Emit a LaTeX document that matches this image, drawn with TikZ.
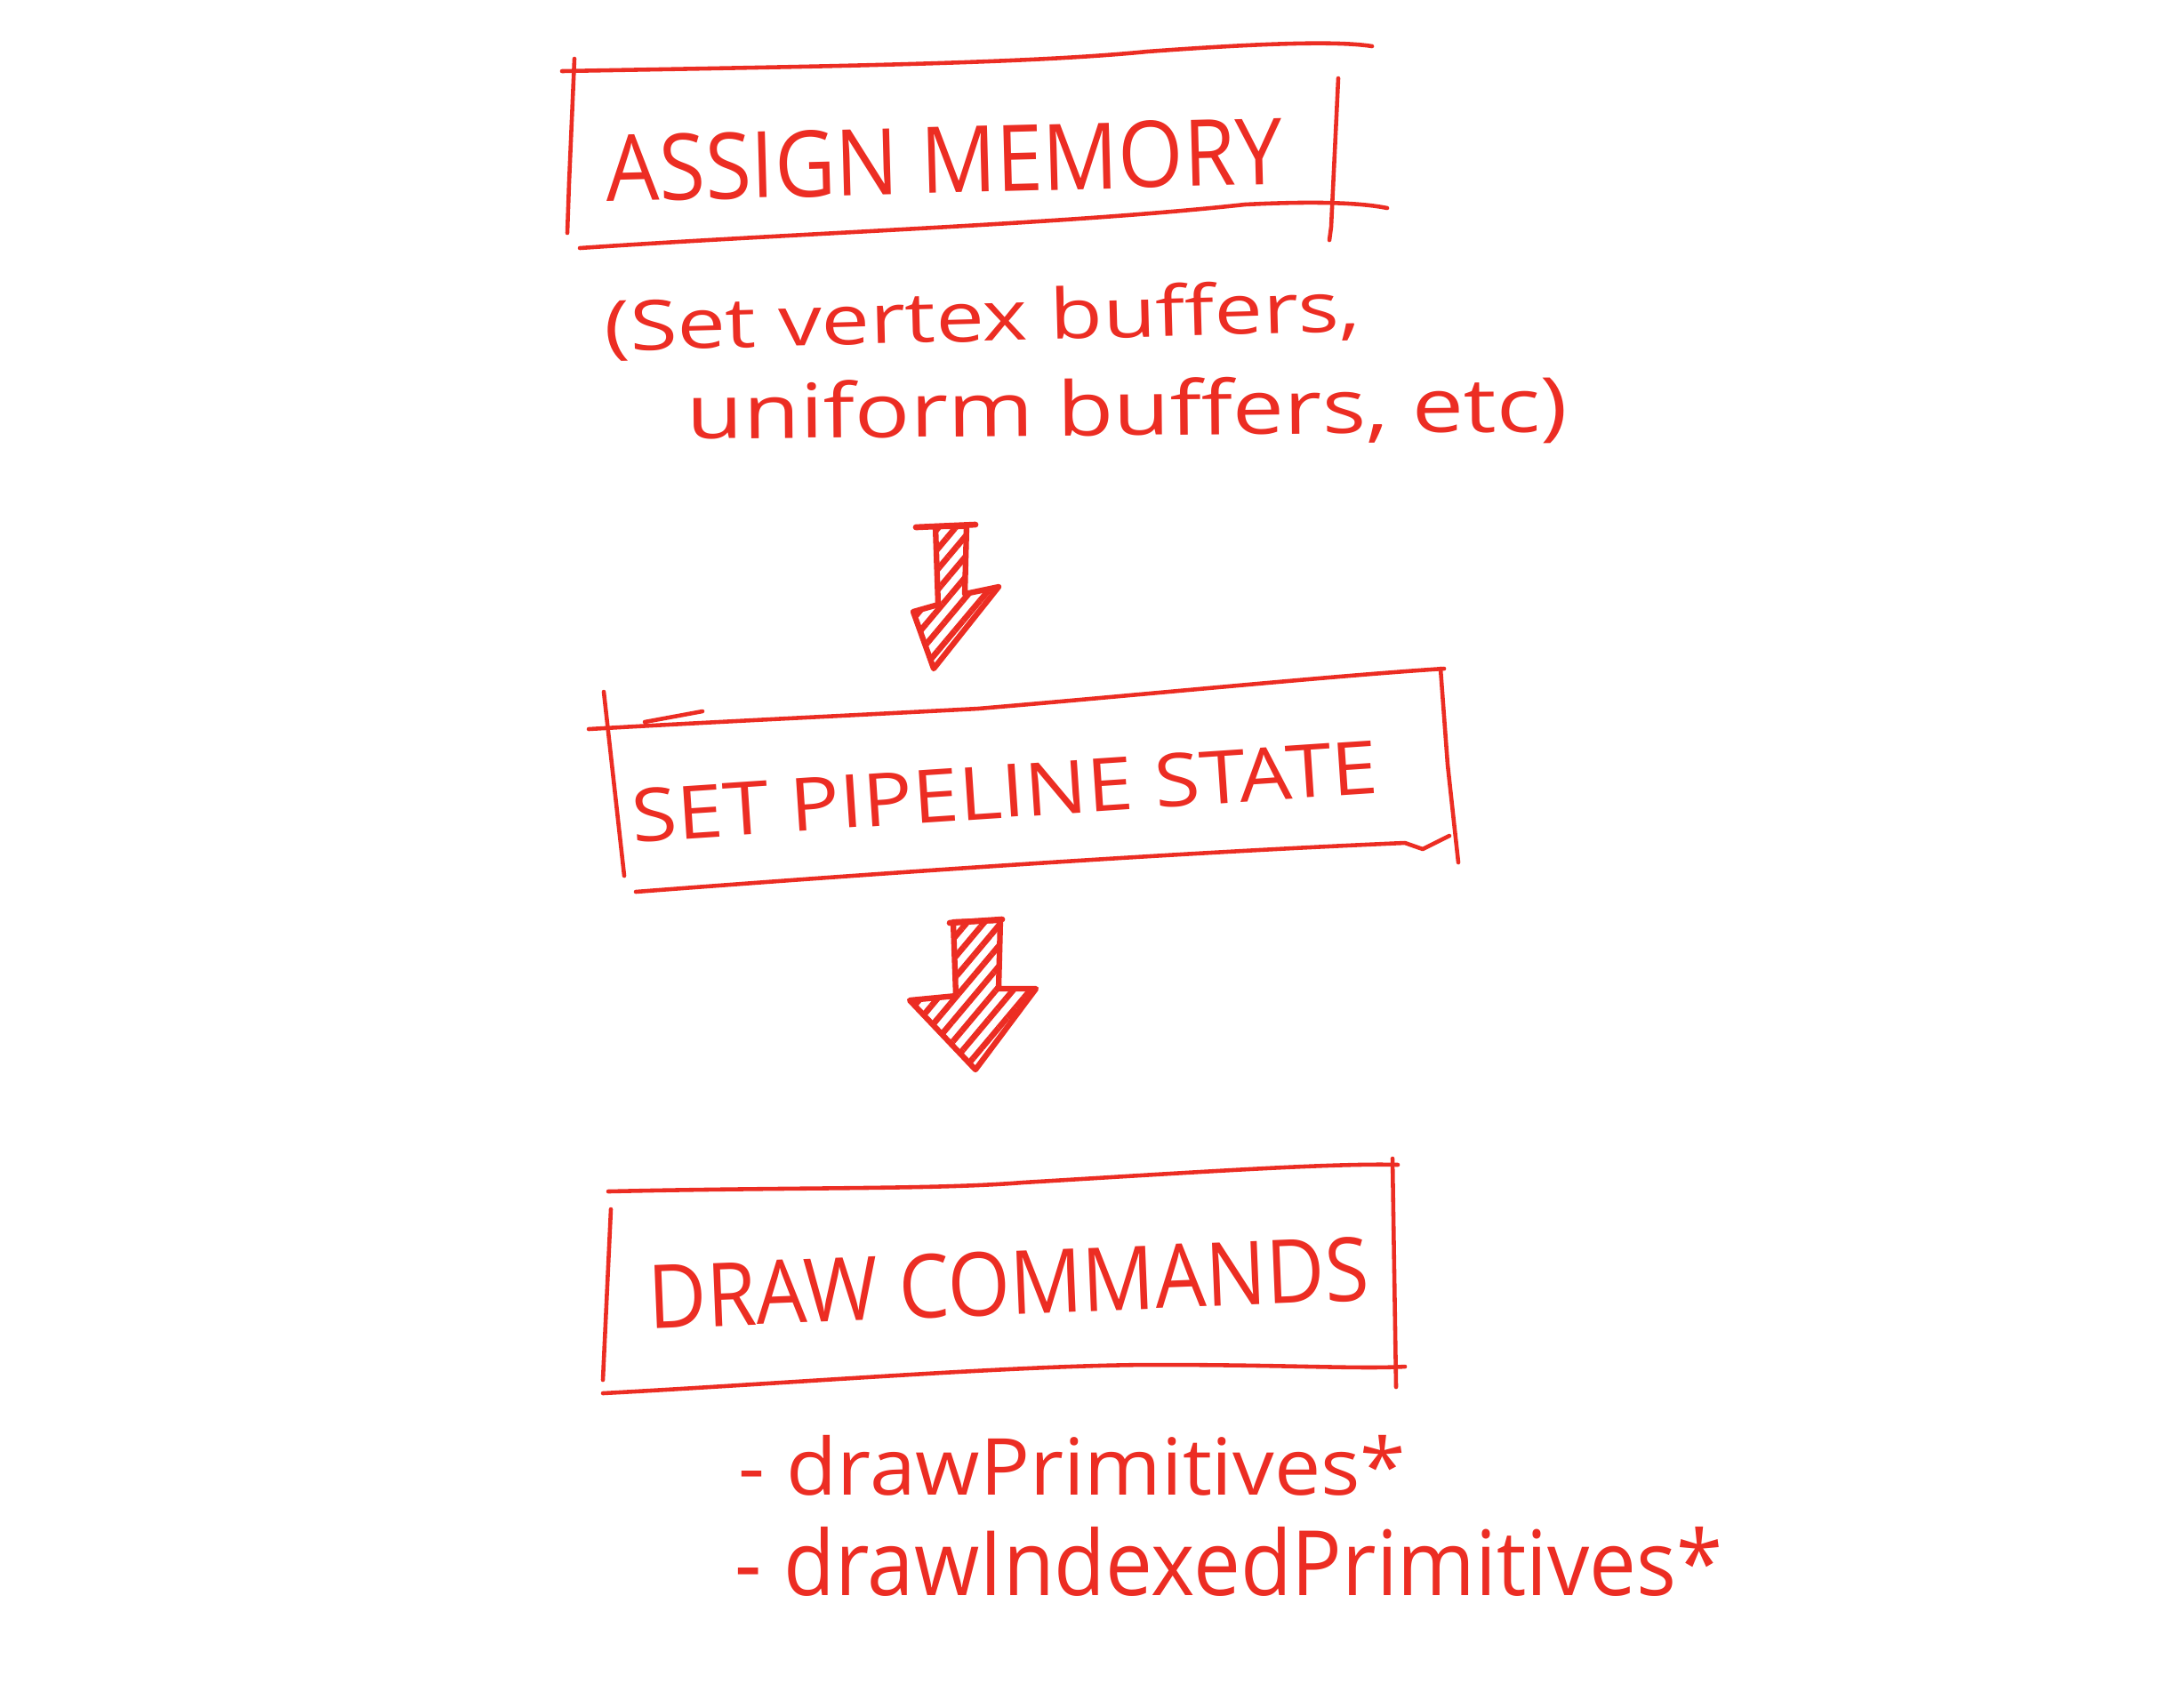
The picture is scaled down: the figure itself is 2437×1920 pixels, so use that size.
\documentclass[tikz,border=0pt]{standalone}
\usepackage{fontspec}
\setmainfont{Open Sans}
\usetikzlibrary{patterns.meta}
\definecolor{sketchred}{RGB}{236,45,35}
\tikzset{
  boxline/.style={draw=sketchred, line width=1.3pt, line cap=round, line join=round},
  txt/.style={text=sketchred, inner sep=0pt},
  hatcharrow/.style={draw=sketchred, line width=1.8pt, line join=round, line cap=round,
    pattern={Lines[angle=50,distance=4.2pt,line width=1.9pt]}, pattern color=sketchred},
  crossbar/.style={draw=sketchred, line width=1.9pt, line cap=round}
}
\begin{document}
\begin{tikzpicture}[x=0.01cm,y=-0.01cm]
\useasboundingbox[fill=white] (0,0) rectangle (2437,1920);

% ---- box 1
\draw[boxline] (632,80) .. controls (900,75) and (1150,72) .. (1290,58) .. controls (1400,50) and (1500,45) .. (1543,52);
\draw[boxline] (646,66) -- (640,205) -- (638,262);
\draw[boxline] (1505,88) -- (1497,255) -- (1495,270);
\draw[boxline] (652,279) .. controls (900,262) and (1200,252) .. (1400,230) .. controls (1480,226) and (1530,228) .. (1560,234);
\node[txt, rotate=1.5] (b1) at (1062,180) {\resizebox{7.6cm}{0.75cm}{ASSIGN MEMORY}};

\node[txt, rotate=1.5] (s1) at (1105,360) {\resizebox*{8.5cm}{0.72cm}{(Set vertex buffers,}};
\node[txt, rotate=0.5] (s2) at (1268,464) {\resizebox*{9.9cm}{0.78cm}{uniform buffers, etc)}};

% ---- arrow 1
\coordinate (a1) at (1068,592);
\coordinate (a1tip) at (1050,752);
\draw[hatcharrow] (1052,592) -- (1087,592) -- (1085,668) -- (1123,660) -- (a1tip) -- (1027,688) -- (1055,680) -- cycle;
\draw[crossbar] (1030,593) -- (1097,590);

% ---- box 2
\draw[boxline] (662,820) .. controls (800,812) and (950,805) .. (1100,797) .. controls (1300,780) and (1500,760) .. (1624,752);
\draw[boxline] (725,812) -- (790,800);
\draw[boxline] (679,778) -- (702,985);
\draw[boxline] (1620,752) -- (1628,860) -- (1640,970);
\draw[boxline] (715,1003) .. controls (950,985) and (1300,960) .. (1580,948) -- (1600,955) -- (1630,940);
\node[txt, rotate=3.8] (b2) at (1130,890) {\resizebox{8.4cm}{0.6cm}{SET PIPELINE STATE}};

% ---- arrow 2
\coordinate (a2) at (1098,1037);
\coordinate (a2tip) at (1097,1203);
\draw[hatcharrow] (1072,1037) -- (1125,1035) -- (1123,1112) -- (1165,1112) -- (a2tip) -- (1023,1125) -- (1075,1120) -- cycle;
\draw[crossbar] (1068,1038) -- (1127,1034);

% ---- box 3
\draw[boxline] (684,1340) .. controls (900,1335) and (1050,1338) .. (1150,1330) .. controls (1350,1318) and (1500,1308) .. (1572,1310);
\draw[boxline] (687,1360) -- (678,1552);
\draw[boxline] (1566,1303) -- (1570,1560);
\draw[boxline] (678,1567) .. controls (900,1555) and (1150,1535) .. (1300,1535) .. controls (1450,1535) and (1530,1540) .. (1580,1537);
\node[txt, rotate=2.3] (b3) at (1134,1443) {\resizebox{8.1cm}{0.72cm}{DRAW COMMANDS}};

% ---- bullets
\node[txt, anchor=west] (l1) at (830,1648) {\resizebox*{7.5cm}{0.68cm}{- drawPrimitives*}};
\node[txt, anchor=west] (l2) at (826,1756) {\resizebox*{11.1cm}{0.78cm}{- drawIndexedPrimitives*}};
\end{tikzpicture}
\end{document}
